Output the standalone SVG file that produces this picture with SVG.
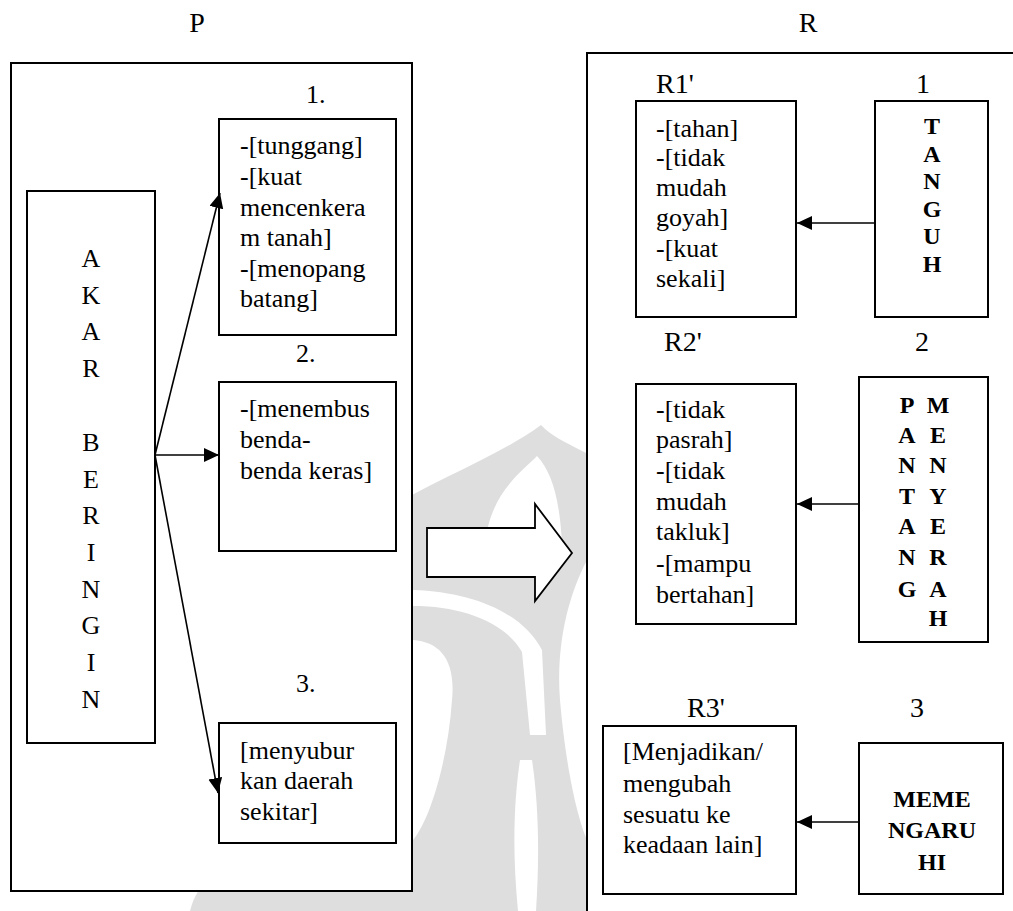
<svg xmlns="http://www.w3.org/2000/svg" width="1013" height="911" viewBox="0 0 1013 911">
  <style>
    .box { fill: #ffffff; stroke: #000000; stroke-width: 2; }
    .frame { fill: #ffffff; stroke: #000000; stroke-width: 2; }
    .serif { font-family: "Liberation Serif", "Times New Roman", serif; fill: #000000; }
    .ln { font-family: "Liberation Serif", "Times New Roman", serif; font-size: 26px; fill: #000000; }
    .lbl { font-size: 28px; }
    .num { font-size: 26px; }
    .bold { font-size: 24px; font-weight: bold; text-anchor: middle; }
    .mid { text-anchor: middle; }
    .conn { stroke: #000000; stroke-width: 1.6; fill: none; marker-end: url(#head); }
    .wm { fill: #dedede; }
    .wmw { fill: #ffffff; }
  </style>
  <defs>
    <marker id="head" markerUnits="userSpaceOnUse" markerWidth="16" markerHeight="15" refX="15" refY="7" orient="auto">
      <path d="M0,0 L15,7 L0,14 Z" fill="#000000"/>
    </marker>
  </defs>

  <rect width="1013" height="911" fill="#ffffff"/>

  <!-- faint background emblem -->
  <g id="emblem">
    <path class="wm" d="M541,425 C560,446 600,452 640,490 L640,911 L330,911 L330,560 C370,500 480,470 541,425 Z"/>
    <path class="wmw" d="M537,456 C522,472 490,492 485,545 L562,545 C560,500 552,472 537,456 Z"/>
    <path class="wmw" d="M413,606 C462,606 505,622 522,652 L530,735 L546,735 L542,650 C522,612 472,592 413,590 Z"/>
    <path class="wmw" d="M413,640 C440,642 456,660 452,700 C448,760 430,820 413,840 Z"/>
    <path class="wmw" d="M587,560 C566,600 556,650 560,700 C566,770 578,820 587,840 Z"/>
    <path class="wmw" d="M520,760 C514,800 512,850 518,911 L536,911 C540,850 538,800 532,760 Z"/>
    <path class="wm" d="M190,911 C200,870 240,850 300,845 L330,845 L330,911 Z"/>
  </g>

  <g class="serif" font-family="Liberation Serif, Times New Roman, serif">
    <!-- side headings -->
    <text class="lbl mid" x="197" y="32">P</text>
    <text class="lbl mid" x="808" y="32">R</text>

    <!-- left panel -->
    <g id="panel-p">
      <rect class="frame" x="11" y="63" width="401" height="828"/>
    </g>

    <g id="akar-beringin">
      <rect class="box" x="27" y="191" width="128" height="552"/>
      <text class="ln mid" x="91" y="267">A</text>
      <text class="ln mid" x="91" y="304">K</text>
      <text class="ln mid" x="91" y="340">A</text>
      <text class="ln mid" x="91" y="377">R</text>
      <text class="ln mid" x="91" y="451">B</text>
      <text class="ln mid" x="91" y="488">E</text>
      <text class="ln mid" x="91" y="524">R</text>
      <text class="ln mid" x="91" y="561">I</text>
      <text class="ln mid" x="91" y="598">N</text>
      <text class="ln mid" x="91" y="634">G</text>
      <text class="ln mid" x="91" y="671">I</text>
      <text class="ln mid" x="91" y="708">N</text>
    </g>

    <g id="p1">
      <text class="num" x="306" y="103">1.</text>
      <rect class="box" x="219" y="119" width="177" height="216"/>
      <text class="ln" x="240" y="154">-[tunggang]</text>
      <text class="ln" x="240" y="185">-[kuat</text>
      <text class="ln" x="240" y="216">mencenkera</text>
      <text class="ln" x="240" y="246">m tanah]</text>
      <text class="ln" x="240" y="277">-[menopang</text>
      <text class="ln" x="240" y="307">batang]</text>
    </g>

    <g id="p2">
      <text class="num" x="296" y="362">2.</text>
      <rect class="box" x="219" y="382" width="177" height="169"/>
      <text class="ln" x="240" y="417">-[menembus</text>
      <text class="ln" x="240" y="448">benda-</text>
      <text class="ln" x="240" y="479">benda keras]</text>
    </g>

    <g id="p3">
      <text class="num" x="296" y="692">3.</text>
      <rect class="box" x="219" y="723" width="177" height="120"/>
      <text class="ln" x="240" y="759">[menyubur</text>
      <text class="ln" x="240" y="789">kan daerah</text>
      <text class="ln" x="240" y="820">sekitar]</text>
    </g>

    <!-- transition arrow between panels -->
    <g id="big-arrow">
      <path d="M427,528 L535,528 L535,504 L572,553 L535,601 L535,577 L427,577 Z" fill="#ffffff" stroke="#000000" stroke-width="1.8" stroke-linejoin="miter"/>
    </g>

    <!-- right panel -->
    <g id="panel-r">
      <rect class="frame" x="587" y="53" width="440" height="880"/>
    </g>

    <g id="r1">
      <text class="lbl" x="656" y="93">R1'</text>
      <rect class="box" x="636" y="101" width="160" height="216"/>
      <text class="ln" x="656" y="137">-[tahan]</text>
      <text class="ln" x="656" y="166">-[tidak</text>
      <text class="ln" x="656" y="196">mudah</text>
      <text class="ln" x="656" y="226">goyah]</text>
      <text class="ln" x="656" y="257">-[kuat</text>
      <text class="ln" x="656" y="287">sekali]</text>
    </g>

    <g id="tanguh">
      <text class="lbl" x="916" y="93">1</text>
      <rect class="box" x="875" y="101" width="113" height="216"/>
      <text class="bold" x="932" y="134">T</text>
      <text class="bold" x="932" y="162">A</text>
      <text class="bold" x="932" y="189">N</text>
      <text class="bold" x="932" y="217">G</text>
      <text class="bold" x="932" y="244">U</text>
      <text class="bold" x="932" y="272">H</text>
    </g>

    <g id="r2">
      <text class="lbl" x="664" y="351">R2'</text>
      <rect class="box" x="636" y="384" width="160" height="240"/>
      <text class="ln" x="656" y="418">-[tidak</text>
      <text class="ln" x="656" y="448">pasrah]</text>
      <text class="ln" x="656" y="479">-[tidak</text>
      <text class="ln" x="656" y="510">mudah</text>
      <text class="ln" x="656" y="540">takluk]</text>
      <text class="ln" x="656" y="572">-[mampu</text>
      <text class="ln" x="656" y="603">bertahan]</text>
    </g>

    <g id="pantang-menyerah">
      <text class="lbl" x="915" y="351">2</text>
      <rect class="box" x="859" y="377" width="129" height="265"/>
      <text class="bold" x="907" y="413">P</text>
      <text class="bold" x="907" y="443">A</text>
      <text class="bold" x="907" y="473">N</text>
      <text class="bold" x="907" y="504">T</text>
      <text class="bold" x="907" y="534">A</text>
      <text class="bold" x="907" y="565">N</text>
      <text class="bold" x="907" y="597">G</text>
      <text class="bold" x="938" y="413">M</text>
      <text class="bold" x="938" y="443">E</text>
      <text class="bold" x="938" y="473">N</text>
      <text class="bold" x="938" y="504">Y</text>
      <text class="bold" x="938" y="534">E</text>
      <text class="bold" x="938" y="565">R</text>
      <text class="bold" x="938" y="597">A</text>
      <text class="bold" x="938" y="626">H</text>
    </g>

    <g id="r3">
      <text class="lbl" x="687" y="717">R3'</text>
      <rect class="box" x="603" y="726" width="193" height="168"/>
      <text class="ln" x="623" y="760">[Menjadikan/</text>
      <text class="ln" x="623" y="792">mengubah</text>
      <text class="ln" x="623" y="823">sesuatu ke</text>
      <text class="ln" x="623" y="853">keadaan lain]</text>
    </g>

    <g id="memengaruhi">
      <text class="lbl" x="910" y="717">3</text>
      <rect class="box" x="859" y="743" width="144" height="151"/>
      <text class="bold" x="932" y="807">MEME</text>
      <text class="bold" x="932" y="838">NGARU</text>
      <text class="bold" x="932" y="870">HI</text>
    </g>
  </g>

  <!-- connectors -->
  <g id="connectors">
    <line class="conn" x1="155" y1="455" x2="220" y2="193"/>
    <line class="conn" x1="155" y1="455" x2="219" y2="455"/>
    <line class="conn" x1="155" y1="455" x2="218" y2="793"/>
    <line class="conn" x1="875" y1="223" x2="797" y2="223"/>
    <line class="conn" x1="859" y1="504" x2="797" y2="504"/>
    <line class="conn" x1="859" y1="822" x2="797" y2="822"/>
  </g>
</svg>
